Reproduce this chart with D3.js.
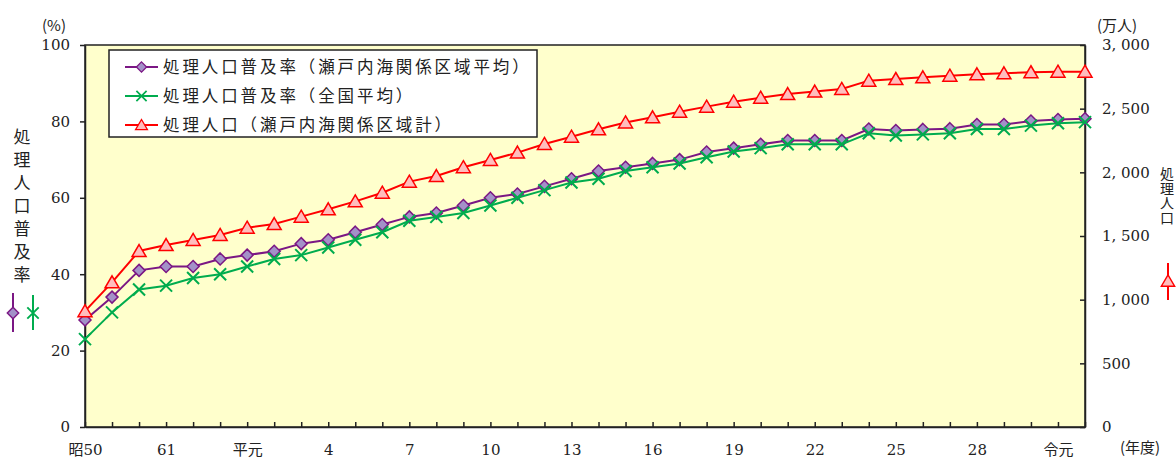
<!DOCTYPE html>
<html>
<head>
<meta charset="utf-8">
<script src="https://cdn.jsdelivr.net/npm/d3@7"></script>
<style>
	body { margin: 0; background: #fff; }
	svg { display: block; }
	.tick text { font-family: "DejaVu Serif", "Noto Sans CJK JP", serif; font-size: 15px; fill: #222; }
	.jp { font-family: "Noto Sans CJK JP", sans-serif; fill: #222; }
	.vert { writing-mode: vertical-rl; }
</style>
</head>
<body>
<div class="container"></div>
<script>
var	WIDTH = 1176,
	HEIGHT = 458,
	LEFT = 85,
	RIGHT = 1085,
	TOP = 45,
	BOTTOM = 427;

// fiscal years (categories)
var years = [1975, 1980, 1985, 1986, 1987, 1988, 1989, 1990, 1991, 1992,
	1993, 1994, 1995, 1996, 1997, 1998, 1999, 2000, 2001, 2002,
	2003, 2004, 2005, 2006, 2007, 2008, 2009, 2010, 2011, 2012,
	2013, 2014, 2015, 2016, 2017, 2018, 2019, 2020];

var xLabels = ['昭50', '55', '60', '61', '62', '63', '平元', '2', '3', '4',
	'5', '6', '7', '8', '9', '10', '11', '12', '13', '14',
	'15', '16', '17', '18', '19', '20', '21', '22', '23', '24',
	'25', '26', '27', '28', '29', '30', '令元', '2'];

// 処理人口普及率（瀬戸内海関係区域平均） %
var setoRate = [28, 34, 41, 42, 42, 44, 45, 46, 48, 49,
	51, 53, 55, 56, 58, 60, 61, 63, 65, 67,
	68, 69, 70, 72, 73, 74, 75, 75, 75, 78,
	77.6, 77.9, 78.1, 79.2, 79.2, 80.1, 80.5, 80.7];

// 処理人口普及率（全国平均） %
var nationalRate = [23, 30, 36, 37, 39, 40, 42, 44, 45, 47,
	49, 51, 54, 55, 56, 58, 60, 62, 64, 65,
	67, 68, 69, 70.6, 72.1, 73, 74, 74, 74, 76.9,
	76.3, 76.6, 76.9, 78, 78, 78.9, 79.5, 79.8];

// 処理人口（瀬戸内海関係区域計） 万人
var setoPop = [910, 1136, 1382, 1429, 1469, 1508, 1565, 1594, 1652, 1710,
	1772, 1840, 1927, 1971, 2040, 2097, 2155, 2223, 2280, 2338,
	2392, 2432, 2476, 2516, 2555, 2586, 2615, 2634, 2655, 2720,
	2733, 2746, 2759, 2770, 2778, 2786, 2790, 2790];

var rateTicks = [0, 20, 40, 60, 80, 100];
var popTicks = [0, 500, 1000, 1500, 2000, 2500, 3000];

var legendNames = ['処理人口普及率（瀬戸内海関係区域平均）', '処理人口普及率（全国平均）', '処理人口（瀬戸内海関係区域計）'];

var PURPLE = '#7b1784', PURPLE_FILL = '#a391c8',
	GREEN = '#00ac4e',
	RED = '#ff0000', RED_FILL = '#ffbdbd';

var DIAMOND = 'M0,-6L6,0L0,6L-6,0Z',
	CROSS = 'M-6,-6L6,6M6,-6L-6,6',
	TRIANGLE = 'M0,-6.5L7,5.5L-7,5.5Z';

function translate(x, y) {
	return 'translate(' + x + ',' + y + ')';
}

var svg = d3.select('.container').append('svg')
	.attr('width', WIDTH)
	.attr('height', HEIGHT);

var xScale = d3.scalePoint().domain(years).range([LEFT, RIGHT]);
var yLeft = d3.scaleLinear().domain([0, 100]).range([BOTTOM, TOP]);
var yRight = d3.scaleLinear().domain([0, 3000]).range([BOTTOM, TOP]);

svg.append('rect')
	.attr('x', LEFT).attr('y', TOP)
	.attr('width', RIGHT - LEFT).attr('height', BOTTOM - TOP)
	.attr('fill', '#ffffcc')
	.attr('stroke', '#222')
	.attr('stroke-width', 1.5);

svg.append('g')
	.attr('transform', translate(LEFT, 0))
	.call(d3.axisLeft(yLeft).tickValues(rateTicks).tickSize(5).tickSizeOuter(0).tickPadding(10));

svg.append('g')
	.attr('transform', translate(RIGHT, 0))
	.call(d3.axisRight(yRight).tickValues(popTicks).tickSizeInner(-5).tickSizeOuter(0).tickPadding(17)
		.tickFormat(function(d) { return d3.format(',')(d).replace(',', ', '); }));

svg.append('g')
	.attr('transform', translate(0, BOTTOM))
	.call(d3.axisBottom(xScale).tickSizeInner(-5).tickSizeOuter(0).tickPadding(17)
		.tickFormat(function(d, i) { return i % 3 === 0 ? xLabels[i] : ''; }));

svg.selectAll('.domain, .tick line').attr('stroke', '#222').attr('stroke-width', 1.5);

// series
var series = [
	{ values: setoRate, y: yLeft, color: PURPLE, marker: DIAMOND, fill: PURPLE_FILL, sw: 1.5 },
	{ values: nationalRate, y: yLeft, color: GREEN, marker: CROSS, fill: 'none', sw: 2 },
	{ values: setoPop, y: yRight, color: RED, marker: TRIANGLE, fill: RED_FILL, sw: 1.5 }
];

series.forEach(function(s) {
	var line = d3.line()
		.x(function(d, i) { return xScale(years[i]); })
		.y(function(d) { return s.y(d); });

	svg.append('path')
		.datum(s.values)
		.attr('fill', 'none')
		.attr('stroke', s.color)
		.attr('stroke-width', 2)
		.attr('d', line);

	svg.append('g').selectAll('path')
		.data(s.values).enter()
		.append('path')
		.attr('d', s.marker)
		.attr('transform', function(d, i) { return translate(xScale(years[i]), s.y(d)); })
		.attr('fill', s.fill)
		.attr('stroke', s.color)
		.attr('stroke-width', s.sw);
});

// legend
var legend = svg.append('g').attr('transform', translate(109, 50));
legend.append('rect')
	.attr('width', 428).attr('height', 87)
	.attr('fill', '#fff')
	.attr('stroke', '#222')
	.attr('stroke-width', 1.5);

series.forEach(function(s, i) {
	var row = legend.append('g').attr('transform', translate(0, 17 + i * 29));
	row.append('line')
		.attr('x1', 16).attr('x2', 49)
		.attr('stroke', s.color).attr('stroke-width', 2);
	row.append('path')
		.attr('d', s.marker)
		.attr('transform', translate(32.5, 0) + ' scale(0.85)')
		.attr('fill', s.fill)
		.attr('stroke', s.color)
		.attr('stroke-width', s.sw);
	row.append('text')
		.attr('class', 'jp')
		.attr('x', 54)
		.attr('dy', '0.36em')
		.attr('font-size', '16.5px')
		.attr('letter-spacing', '2.9px')
		.text(legendNames[i]);
});

// unit labels
svg.append('text').attr('class', 'jp').attr('x', 42).attr('y', 31)
	.attr('font-size', '15px').text('(%)');
svg.append('text').attr('class', 'jp').attr('x', 1097).attr('y', 31)
	.attr('font-size', '15px').text('(万人)');
svg.append('text').attr('class', 'jp').attr('x', 1120).attr('y', 453)
	.attr('font-size', '15px').text('(年度)');

// vertical axis titles
svg.append('text').attr('class', 'jp vert')
	.attr('x', 22).attr('y', 128)
	.attr('font-size', '17px')
	.attr('letter-spacing', '6px')
	.text('処理人口普及率');

svg.append('text').attr('class', 'jp vert')
	.attr('x', 1167).attr('y', 167)
	.attr('font-size', '14px')
	.attr('letter-spacing', '0.5px')
	.text('処理人口');

// series keys beside titles
var keys = [
	{ s: series[0], x: 13, y1: 293, y2: 332, my: 313 },
	{ s: series[1], x: 33, y1: 295, y2: 330, my: 313 },
	{ s: series[2], x: 1168, y1: 263, y2: 300, my: 281 }
];
keys.forEach(function(k) {
	svg.append('line')
		.attr('x1', k.x).attr('x2', k.x)
		.attr('y1', k.y1).attr('y2', k.y2)
		.attr('stroke', k.s.color).attr('stroke-width', 2);
	svg.append('path')
		.attr('d', k.s.marker)
		.attr('transform', translate(k.x, k.my) + ' scale(0.95)')
		.attr('fill', k.s.fill)
		.attr('stroke', k.s.color)
		.attr('stroke-width', k.s.sw);
});
</script>
</body>
</html>
